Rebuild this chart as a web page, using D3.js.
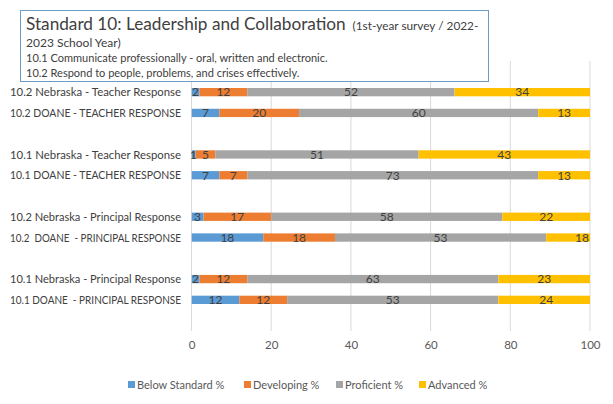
<!DOCTYPE html>
<html><head><meta charset="utf-8">
<script src="https://cdn.jsdelivr.net/npm/d3@7"></script>
<style>
html,body{margin:0;padding:0;background:#fff;}
svg{display:block;font-family:Lato,"Open Sans",sans-serif;}
</style></head>
<body>
<svg id="c" width="613" height="404"></svg>
<script>
const categories = ["", "10.2 Nebraska - Teacher Response", "10.2 DOANE - TEACHER RESPONSE", "",
  "10.1 Nebraska - Teacher Response", "10.1 DOANE - TEACHER RESPONSE", "",
  "10.2 Nebraska - Principal Response", "10.2  DOANE  - PRINCIPAL RESPONSE", "",
  "10.1 Nebraska - Principal Response", "10.1 DOANE  - PRINCIPAL RESPONSE", ""];
const seriesNames = ["Below Standard %", "Developing %", "Proficient %", "Advanced %"];
const below      = [null, 2, 7, null, 1, 7, null, 3, 18, null, 2, 12, null];
const developing = [null, 12, 20, null, 5, 7, null, 17, 18, null, 12, 12, null];
const proficient = [null, 52, 60, null, 51, 73, null, 58, 53, null, 63, 53, null];
const advanced   = [null, 34, 13, null, 43, 13, null, 22, 18, null, 23, 24, null];
const xTicks = [0, 20, 40, 60, 80, 100];
const colors = ["#5B9BD5", "#ED7D31", "#A5A5A5", "#FFC000"];

const titleMain = "Standard 10: Leadership and Collaboration";
const titleSub1 = "(1st-year survey / 2022-";
const titleSub2 = "2023 School Year)";
const titleLine3 = "10.1 Communicate professionally - oral, written and electronic.";
const titleLine4 = "10.2 Respond to people, problems, and crises effectively.";

const svg = d3.select("#c");
const L = 191.5, R = 590, T = 61, B = 331;
const x = d3.scaleLinear().domain([0, 100]).range([L, R]);
const y = d3.scaleBand().domain(d3.range(categories.length)).range([T, B]).paddingInner(0.6).paddingOuter(0.3);

const series = [below, developing, proficient, advanced];
const rows = categories.map((c, i) => {
  let acc = 0;
  const segs = series.map((s, k) => {
    const v = s[i];
    const seg = {k, v, x0: acc, x1: acc + (v || 0)};
    acc += (v || 0);
    return seg;
  });
  return {i, c, segs};
});

// gridlines
svg.append("g").selectAll("line").data(xTicks).join("line")
  .attr("x1", d => x(d)).attr("x2", d => x(d))
  .attr("y1", T).attr("y2", B)
  .attr("stroke", "#d9d9d9").attr("stroke-width", 1);

// clip
svg.append("clipPath").attr("id", "plotclip").append("rect")
  .attr("x", L).attr("y", T).attr("width", R - L).attr("height", B - T);

const plot = svg.append("g").attr("clip-path", "url(#plotclip)");
rows.forEach(r => {
  if (!r.c) return;
  plot.selectAll(null).data(r.segs.filter(s => s.v != null)).join("rect")
    .attr("x", s => x(s.x0)).attr("width", s => x(s.x1) - x(s.x0))
    .attr("y", y(r.i)).attr("height", y.bandwidth())
    .attr("fill", s => colors[s.k]);
});
// data labels
rows.forEach(r => {
  if (!r.c) return;
  svg.append("g").selectAll("text").data(r.segs.filter(s => s.v != null)).join("text")
    .attr("x", s => x((s.x0 + s.x1) / 2)).attr("y", y(r.i) + y.bandwidth() / 2)
    .attr("dy", "0.36em").attr("text-anchor", "middle")
    .attr("font-size", 12).attr("fill", "#404040")
    .text(s => s.v);
});

// category labels
const maxLabelW = 171;
svg.append("g").selectAll("text").data(rows.filter(r => r.c)).join("text")
  .attr("x", 181).attr("y", r => y(r.i) + y.bandwidth() / 2)
  .attr("dy", "0.36em").attr("text-anchor", "end")
  .attr("font-size", 11.5).attr("fill", "#404040")
  .style("white-space", "pre")
  .text(r => r.c)
  .each(function() {
    const w = this.getComputedTextLength();
    if (w > maxLabelW) {
      d3.select(this).attr("textLength", maxLabelW).attr("lengthAdjust", "spacingAndGlyphs");
    }
  });

// x axis labels
const ax = svg.append("g").attr("transform", `translate(0,${B})`)
  .call(d3.axisBottom(x).tickValues(xTicks).tickSize(0).tickPadding(10));
ax.select(".domain").remove();
ax.selectAll("text").attr("font-size", 11.5).attr("fill", "#595959").attr("font-family", "Lato,'Open Sans',sans-serif");

// title box
const tb = svg.append("g");
tb.append("rect").attr("x", 20.5).attr("y", 10.5).attr("width", 468).attr("height", 71)
  .attr("fill", "#fff").attr("stroke", "#6C9BC7").attr("stroke-width", 1);
const t1 = tb.append("text").attr("x", 26).attr("y", 30).attr("fill", "#404040");
t1.append("tspan").attr("font-size", 17.2).text(titleMain);
t1.append("tspan").attr("font-size", 11.8).attr("dx", 7).text(titleSub1);
tb.append("text").attr("x", 26).attr("y", 47).attr("font-size", 12).attr("fill", "#404040").text(titleSub2);
tb.append("text").attr("x", 26).attr("y", 62).attr("font-size", 11).attr("fill", "#404040").text(titleLine3);
tb.append("text").attr("x", 26).attr("y", 77).attr("font-size", 11).attr("fill", "#404040").text(titleLine4);

// legend
const legX = [128, 244, 336, 419];
const lg = svg.append("g");
seriesNames.forEach((n, k) => {
  lg.append("rect").attr("x", legX[k]).attr("y", 381).attr("width", 7).attr("height", 7).attr("fill", colors[k]);
  lg.append("text").attr("x", legX[k] + 9).attr("y", 385).attr("dy", "0.36em")
    .attr("font-size", 11).attr("fill", "#595959").text(n);
});
</script>
</body></html>
